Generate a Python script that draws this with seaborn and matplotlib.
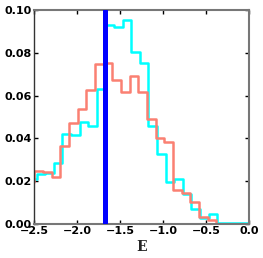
import numpy as np
import pandas as pd
import matplotlib
matplotlib.use("Agg")
import matplotlib.pyplot as plt
import seaborn as sns

# ---- data ----
# cyan histogram: bin start and width, densities per bin
cyan_start = -2.569
cyan_width = 0.1
cyan_values = [0.021, 0.0232, 0.0236, 0.0285, 0.042, 0.0415, 0.0475, 0.046,
               0.063, 0.093, 0.0919, 0.0953, 0.0805, 0.0751, 0.0458, 0.0325,
               0.0198, 0.0209, 0.014, 0.0072, 0.003, 0.0045, 0.0006, 0.0005,
               0.0005, 0.0005, 0.0004]

# salmon histogram
red_start = -2.596
red_width = 0.1007
red_values = [0.0198, 0.0249, 0.0243, 0.0218, 0.0366, 0.047, 0.0537, 0.0625,
              0.0748, 0.0753, 0.0672, 0.0615, 0.0692, 0.0618, 0.049, 0.0403,
              0.0382, 0.016, 0.0145, 0.0105, 0.0033, 0.0017]

vline_x = -1.677

x_ticks = [-2.5, -2.0, -1.5, -1.0, -0.5, 0.0]
y_ticks = [0.00, 0.02, 0.04, 0.06, 0.08, 0.10]
x_label = "E"


def hist_frame(start, width, values):
    n = len(values)
    edges = start + width * np.arange(n + 1)
    # closing zero-height sliver so the outline drops to the baseline
    edges = np.append(edges, edges[-1] + 1e-4)
    centers = (edges[:-1] + edges[1:]) / 2
    w = list(values) + [0.0]
    return pd.DataFrame({"x": centers, "w": w}), [float(e) for e in edges]


sns.set_style("ticks", {"xtick.direction": "in", "ytick.direction": "in"})
plt.rcParams["font.family"] = ["DejaVu Sans"]

fig = plt.figure(figsize=(2.63, 2.58), dpi=100)
ax = fig.add_axes([34 / 263, 1 - 224 / 258, 215 / 263, 214 / 258])

dc, ec = hist_frame(cyan_start, cyan_width, cyan_values)
dr, er = hist_frame(red_start, red_width, red_values)

sns.histplot(data=dc, x="x", weights="w", bins=ec, element="step", fill=False,
             color="#00FFFF", linewidth=1.8, ax=ax)
sns.histplot(data=dr, x="x", weights="w", bins=er, element="step", fill=False,
             color="#FA8072", linewidth=1.8, ax=ax)

ax.axvline(vline_x, color="#0000FF", linewidth=3.6, zorder=3)

ax.set_xlim(-2.5, 0.0)
ax.set_ylim(0.0, 0.10)
ax.set_xticks(x_ticks)
ax.set_yticks(y_ticks)
ax.set_xticklabels([f"{v:.1f}".replace("-", "\u2212") for v in x_ticks],
                   fontsize=8, fontweight="bold")
ax.set_yticklabels([f"{v:.2f}" for v in y_ticks], fontsize=8, fontweight="bold")
ax.tick_params(axis="both", which="both", direction="in", length=3, width=1,
               top=True, right=True, pad=1.5, colors="black")
ax.set_ylabel("")
ax.set_xlabel(x_label, fontsize=10, fontweight="bold", family="DejaVu Serif",
              labelpad=3)
for name, s in ax.spines.items():
    s.set_visible(True)
    s.set_color("#333333" if name == "left" else "#777777")
    s.set_linewidth(1.0 if name == "left" else 1.5)

fig.savefig("out.png", dpi=100)
